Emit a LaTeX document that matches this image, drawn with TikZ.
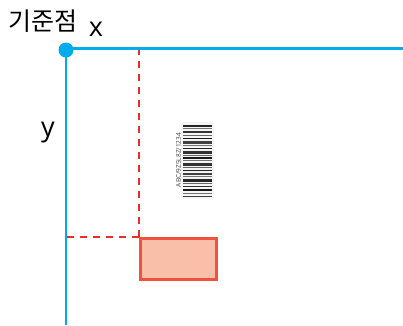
\documentclass[tikz,border=0pt]{standalone}
\usepackage{fontspec}
\setmainfont{Open Sans}
\newfontfamily\kofont{Noto Sans CJK KR}
\usepackage{xcolor}
\usetikzlibrary{positioning,calc}

\definecolor{axisblue}{RGB}{0,172,236}
\definecolor{guidered}{RGB}{237,45,40}
\definecolor{boxfill}{RGB}{249,191,168}
\definecolor{boxline}{RGB}{240,82,62}

\begin{document}
\begin{tikzpicture}[x=1pt,y=-1pt,
  axis/.style={axisblue,line width=2.6pt},
  guide/.style={guidered,line width=1.7pt,dash pattern=on 7pt off 6pt},
  label/.style={inner sep=0pt,font=\fontsize{27}{27}\selectfont},
  bar/.style={draw=none}]
  \useasboundingbox (0,0) rectangle (403,325);

  % axes from the reference point
  \node[circle,fill=axisblue,inner sep=0pt,minimum size=15pt] (origin) at (66,50) {};
  \coordinate (xend) at (403,48.5);
  \coordinate (yend) at (66,325);
  \draw[axis] (origin.center |- xend) -- (xend);
  \draw[axis] (origin.center) -- (yend);

  \node[inner sep=0pt,font=\kofont\fontsize{25}{25}\selectfont] (ref) at (43,21) {기준점};
  \node[label] (xlab) at (96,29) {x};
  \node[label] (ylab) at (48,133) {y};

  % barcode
  \fill[black!4] (181,122) rectangle (214,199);
  \node[inner sep=0pt,rotate=90,font=\fontsize{6.5}{6.5}\selectfont,text=black!75] (codetxt) at (178.5,160) {ABC/9Z5L8Z/1234};
  \foreach \y/\h/\g in {124.5/2.5/85,128/1/55,130.5/2.5/80,134.5/1/60,137.5/1.5/90,140.5/3/75,144.5/1/55,147.5/1.5/85,150.5/3/80,154.5/1/60,
                     157/1.5/90,160/1/55,162.5/3/80,166.5/1/60,169.5/1.5/85,172.5/2/75,176/1/55,178.5/3/85,182.5/1/60,185.5/1.5/80,
                     188.5/2.5/90,192.5/1/55,195.5/1.5/75}
    \fill[bar,black!\g] (183,\y) rectangle (212,\y+\h);

  % box and guide lines
  \node[draw=boxline,fill=boxfill,line width=2.4pt,minimum width=76pt,minimum height=41pt,inner sep=0pt] (box) at (178.5,259) {};
  \draw[guide] (box.north west) -- (box.north west |- origin);
  \draw[guide] (box.north west) -- (box.north west -| origin);
\end{tikzpicture}
\end{document}
